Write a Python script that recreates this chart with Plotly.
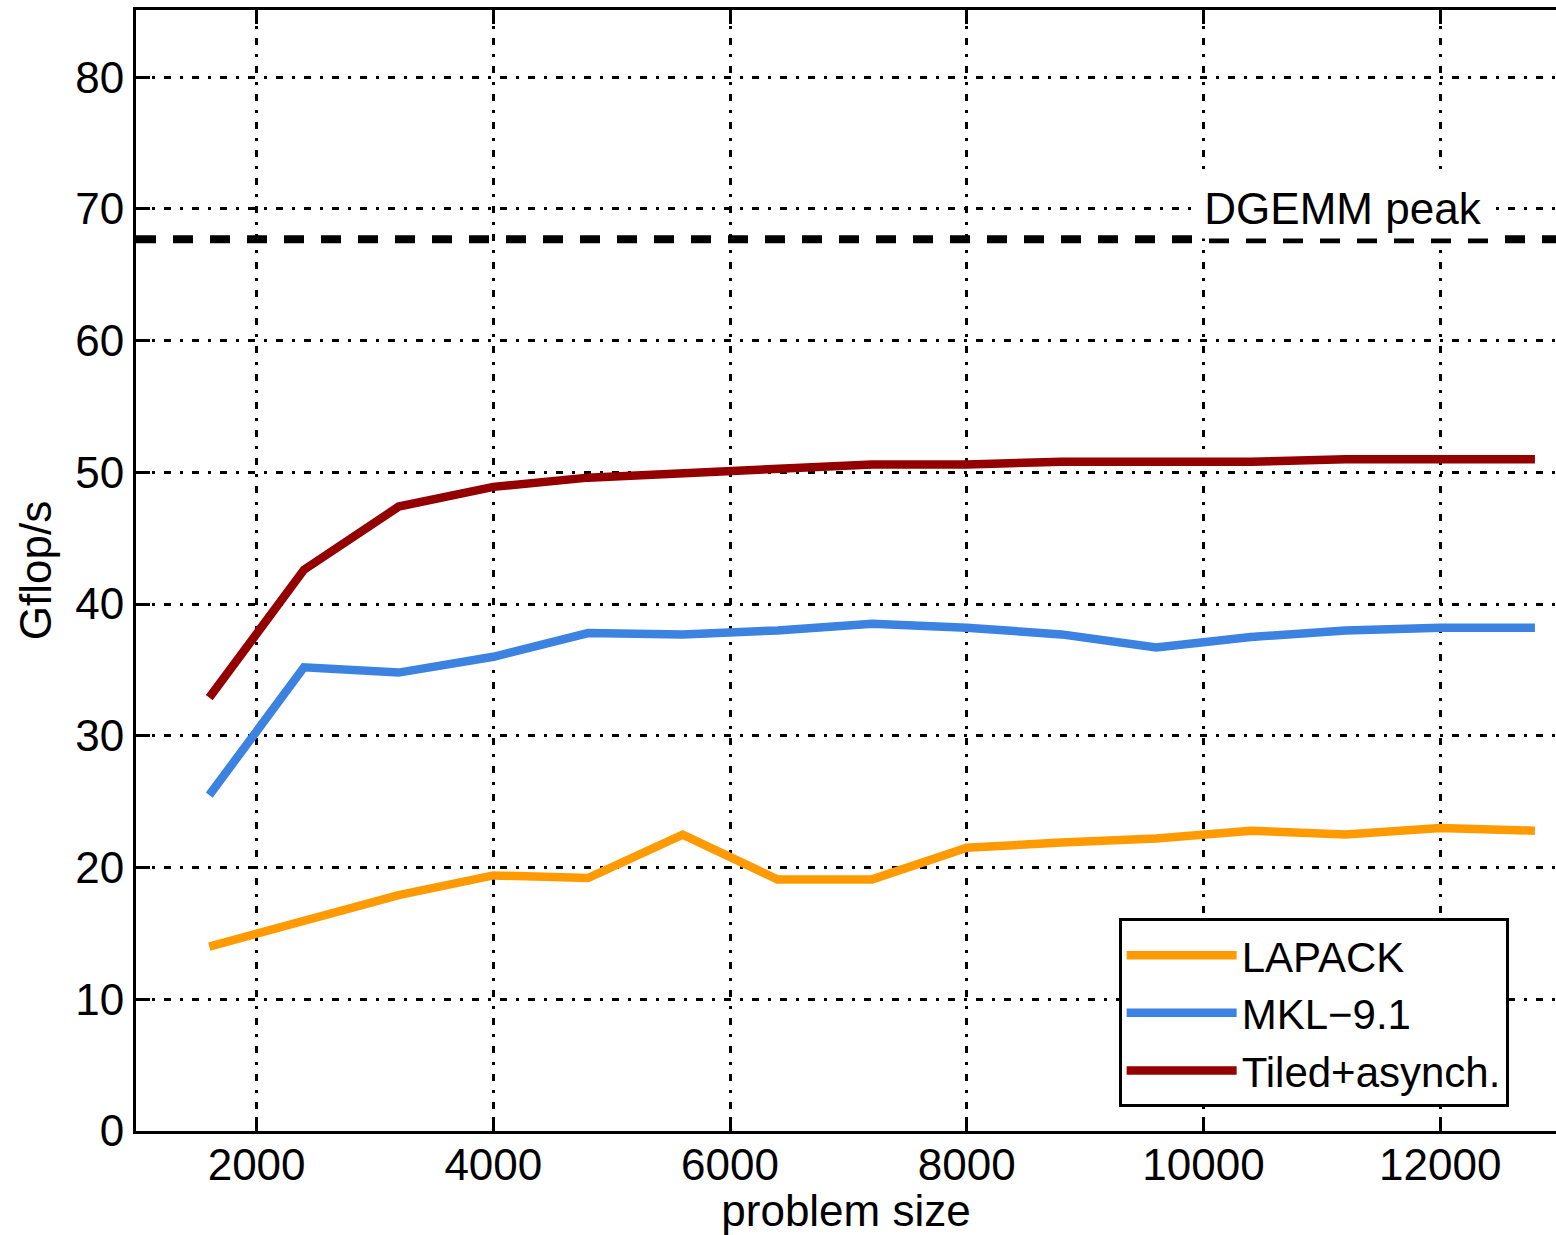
import plotly.graph_objects as go

problem_size = [1600, 2400, 3200, 4000, 4800, 5600, 6400, 7200, 8000, 8800, 9600, 10400, 11200, 12000, 12800]
lapack = [14.0, 15.9, 17.9, 19.4, 19.2, 22.5, 19.1, 19.1, 21.5, 21.9, 22.2, 22.8, 22.5, 23.0, 22.8]
mkl = [25.5, 35.2, 34.8, 36.0, 37.8, 37.7, 38.0, 38.5, 38.2, 37.7, 36.7, 37.5, 38.0, 38.2, 38.2]
tiled = [32.9, 42.6, 47.4, 48.9, 49.6, 49.9, 50.3, 50.6, 50.6, 50.8, 50.8, 50.8, 51.0, 51.0, 51.0]
dgemm_peak = 67.7

series_names = ["LAPACK", "MKL\u22129.1", "Tiled+asynch."]
series_colors = ["#FF9B00", "#3C82E1", "#940000"]
x_ticks = [2000, 4000, 6000, 8000, 10000, 12000]
y_ticks = [0, 10, 20, 30, 40, 50, 60, 70, 80]

FONT = "Liberation Sans, Arial, sans-serif"

fig = go.Figure()
for name, vals, col in zip(series_names, [lapack, mkl, tiled], series_colors):
    fig.add_trace(go.Scatter(x=problem_size, y=vals, mode="lines", name=name,
                             line=dict(color=col, width=8.5)))

fig.add_shape(type="line", xref="paper", x0=0, x1=1, yref="y", y0=dgemm_peak, y1=dgemm_peak,
              line=dict(color="black", width=8, dash="20px,17px"), layer="above")

fig.add_annotation(x=11180, y=70.1, xref="x", yref="y", text="DGEMM peak", showarrow=False,
                   font=dict(family=FONT, size=44, color="black"), bgcolor="white",
                   width=292, height=60, borderpad=0)

grid_dash = "7px,9px,3px,9px"
fig.update_layout(
    width=1556, height=1235,
    margin=dict(l=136, r=0, t=10, b=104),
    paper_bgcolor="white", plot_bgcolor="white",
    font=dict(family=FONT, size=44, color="black"),
    showlegend=True,
    legend=dict(x=0.692, y=0.021, xanchor="left", yanchor="bottom",
                bgcolor="white", bordercolor="black", borderwidth=3,
                font=dict(family=FONT, size=42, color="black"),
                itemwidth=110, tracegroupgap=0),
    xaxis=dict(range=[981, 12978], tickvals=x_ticks, ticktext=[str(v) for v in x_ticks],
               showgrid=True, gridcolor="black", gridwidth=3, griddash=grid_dash,
               showline=True, linecolor="black", linewidth=3, mirror="ticks",
               ticks="inside", ticklen=14, tickwidth=3, tickcolor="black",
               ticklabelstandoff=-7,
               zeroline=False,
               title=dict(text="problem size", standoff=14, font=dict(size=44))),
    yaxis=dict(range=[0, 85.1], tickvals=y_ticks, ticktext=[str(v) for v in y_ticks],
               showgrid=True, gridcolor="black", gridwidth=3, griddash=grid_dash,
               showline=True, linecolor="black", linewidth=3, mirror=False,
               ticks="inside", ticklen=14, tickwidth=3, tickcolor="black",
               zeroline=False,
               title=dict(text="Gflop/s", standoff=10, font=dict(size=44))),
)

fig.write_html("out.html")
